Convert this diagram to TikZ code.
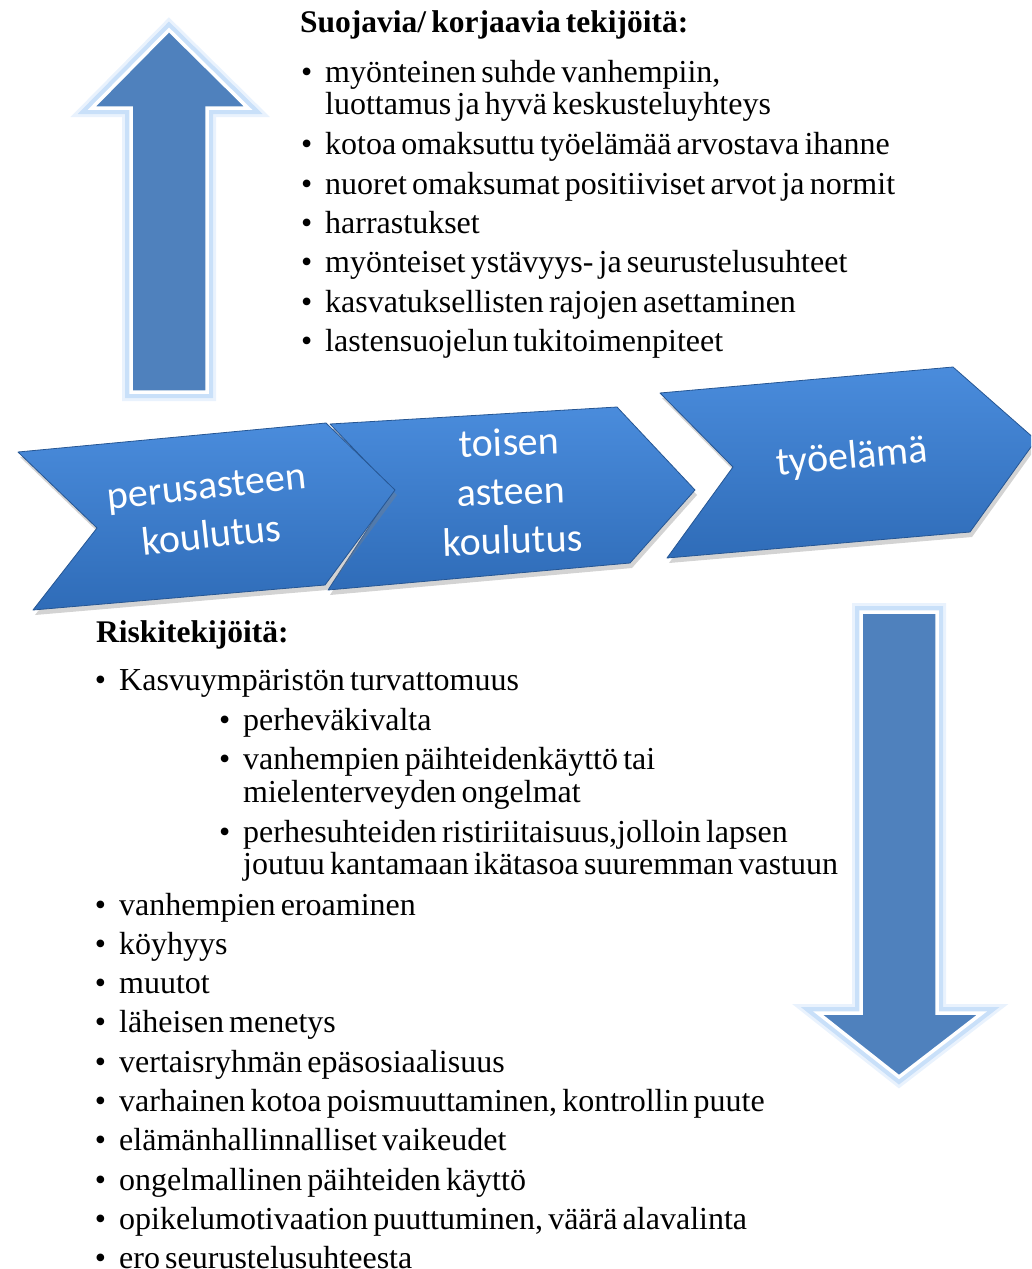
\documentclass[tikz,border=0pt]{standalone}
\usepackage{fontspec}
\setmainfont{Liberation Serif}
\newfontfamily\bodyfont[WordSpace=0.65]{Liberation Serif}
\newfontfamily\chevfont{Carlito}
\usetikzlibrary{shadows}
\definecolor{arrowblue}{HTML}{4F81BD}
\definecolor{glowblue}{HTML}{A9CDF6}
\definecolor{chevtop}{HTML}{4A8CDC}
\definecolor{chevbot}{HTML}{2F6CB8}
\newcommand{\bul}{\llap{\textbullet\hskip 13pt}}
\tikzset{%
	bigarrow/.style = {fill=arrowblue, draw=white, line width=3.5pt,
		preaction={draw=glowblue, line width=18pt, opacity=0.25},
		preaction={draw=glowblue, line width=12pt, opacity=0.5}}, % Up/down arrows
	chevron/.style  = {top color=chevtop, bottom color=chevbot, draw=chevbot!80!black,
		line width=0.8pt, line join=round,
		drop shadow={shadow xshift=2pt, shadow yshift=-5pt, opacity=0.35}}, % Steps
	chevtext/.style = {text=white, align=center, inner sep=0pt,
		font=\chevfont\fontsize{40}{49}\selectfont}, % Step labels
	head/.style     = {anchor=mid west, inner sep=0pt,
		font=\bodyfont\bfseries\fontsize{31.5}{31.5}\selectfont}, % Headings
	item/.style     = {anchor=mid west, inner sep=0pt,
		font=\bodyfont\fontsize{32}{32}\selectfont} % List lines
}

\begin{document}
\begin{tikzpicture}[x=1pt,y=-1pt]
                \useasboundingbox (0,0) rectangle (1031,1269);
                \clip (0,0) rectangle (1031,1269);

                % arrows
                \draw[bigarrow] (169,30) -- (248,108) -- (207,108) -- (207,392)
                    -- (131,392) -- (131,108) -- (92,108) -- cycle;
                \draw[bigarrow] (861,612) -- (937,612) -- (937,1013) -- (982,1013)
                    -- (899,1077) -- (818,1013) -- (861,1013) -- cycle;

                % steps
                \path[chevron] (660,393) -- (953,367) -- (1036,440) -- (970,532)
                    -- (667,558) -- (733,467) -- cycle;
                \path[chevron] (330,424) -- (617,407) -- (695,490) -- (630,563)
                    -- (328,590) -- (393,490) -- cycle;
                \path[chevron] (18,452) -- (326,423) -- (395,490) -- (325,585)
                    -- (33,610) -- (97,528) -- cycle;

                \node[chevtext, rotate=6] (perus) at (209,511) {perusasteen\\koulutus};
                \node[chevtext, rotate=2] (toinen) at (511,491) {toisen\\asteen\\koulutus};
                \node[chevtext, rotate=5] (tyo) at (852,458) {työelämä};

                % protective factors
                \node[head] (suoja) at (300,30) {Suojavia/ korjaavia tekijöitä:};
                \node[item] (s1)  at (325,80)  {\bul myönteinen suhde vanhempiin,};
                \node[item] (s1b) at (325,112) {luottamus ja hyvä keskusteluyhteys};
                \node[item] (s2)  at (325,152) {\bul kotoa omaksuttu työelämää arvostava ihanne};
                \node[item] (s3)  at (325,192) {\bul nuoret omaksumat positiiviset arvot ja normit};
                \node[item] (s4)  at (325,231) {\bul harrastukset};
                \node[item] (s5)  at (325,270) {\bul myönteiset ystävyys- ja seurustelusuhteet};
                \node[item] (s6)  at (325,310) {\bul kasvatuksellisten rajojen asettaminen};
                \node[item] (s7)  at (325,349) {\bul lastensuojelun tukitoimenpiteet};

                % risk factors
                \node[head] (riski) at (96,640) {Riskitekijöitä:};
                \node[item] (r1)  at (119,688)  {\bul Kasvuympäristön turvattomuus};
                \node[item] (r1a) at (243,728)  {\bul perheväkivalta};
                \node[item] (r1b) at (243,767)  {\bul vanhempien päihteidenkäyttö tai};
                \node[item] (r1c) at (243,800)  {mielenterveyden ongelmat};
                \node[item] (r1d) at (243,840)  {\bul perhesuhteiden ristiriitaisuus,jolloin lapsen};
                \node[item] (r1e) at (243,872)  {joutuu kantamaan ikätasoa suuremman vastuun};
                \node[item] (r2)  at (119,913)  {\bul vanhempien eroaminen};
                \node[item] (r3)  at (119,952)  {\bul köyhyys};
                \node[item] (r4)  at (119,991)  {\bul muutot};
                \node[item] (r5)  at (119,1030) {\bul läheisen menetys};
                \node[item] (r6)  at (119,1070) {\bul vertaisryhmän epäsosiaalisuus};
                \node[item] (r7)  at (119,1109) {\bul varhainen kotoa poismuuttaminen, kontrollin puute};
                \node[item] (r8)  at (119,1148) {\bul elämänhallinnalliset vaikeudet};
                \node[item] (r9)  at (119,1188) {\bul ongelmallinen päihteiden käyttö};
                \node[item] (r10) at (119,1227) {\bul opikelumotivaation puuttuminen, väärä alavalinta};
                \node[item] (r11) at (119,1266) {\bul ero seurustelusuhteesta};
            \end{tikzpicture}
\end{document}
